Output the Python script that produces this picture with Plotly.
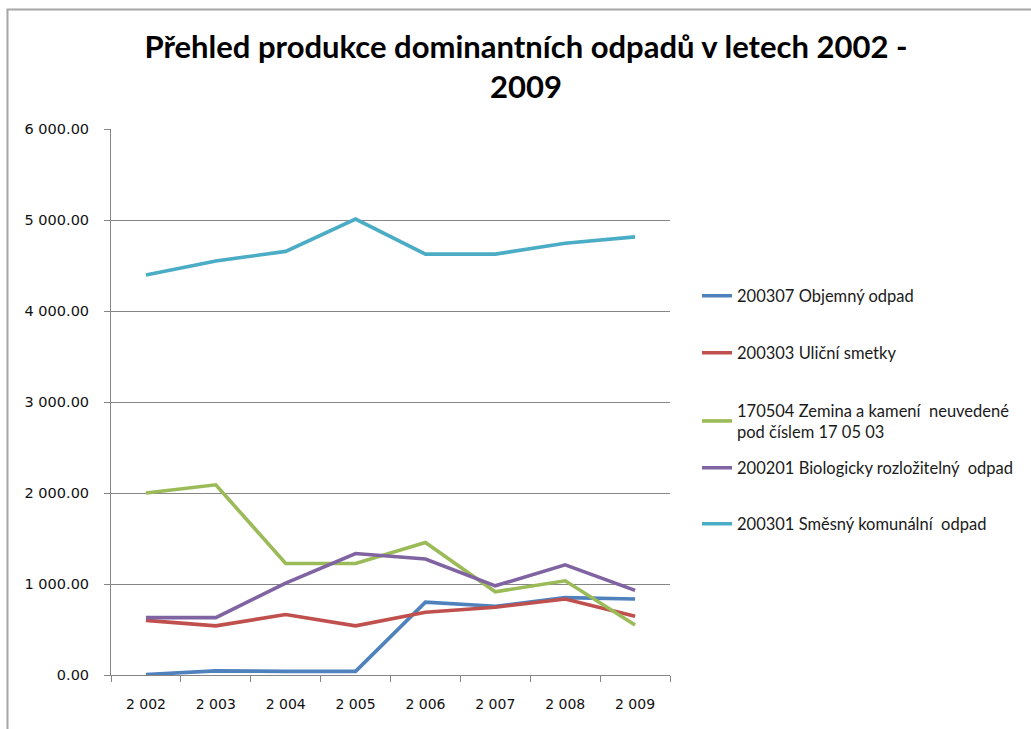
import plotly.graph_objects as go

# Years on the category axis (thousands separator is a space)
years = ["2 002", "2 003", "2 004", "2 005", "2 006", "2 007", "2 008", "2 009"]

# Waste production per year (t)
objemny = [5, 45, 40, 40, 800, 755, 850, 835]
ulicni = [600, 540, 665, 540, 690, 745, 835, 645]
zemina = [2000, 2090, 1225, 1225, 1455, 915, 1035, 550]
bio = [630, 630, 1010, 1335, 1275, 980, 1210, 930]
smesny = [4395, 4550, 4655, 5010, 4625, 4625, 4745, 4815]

series_names = [
    "200307 Objemný odpad",
    "200303 Uliční smetky",
    "170504 Zemina a kamení  neuvedené<br>pod číslem 17 05 03",
    "200201 Biologicky rozložitelný  odpad",
    "200301 Směsný komunální  odpad",
]
series_values = [objemny, ulicni, zemina, bio, smesny]
colors = ["#4F81BD", "#C0504D", "#9BBB59", "#8064A2", "#4BACC6"]

W, H = 1031, 729
L, R, T, B = 111, 361, 129, 54
PW, PH = W - L - R, H - T - B


def px_x(x):
    return (x - L) / PW


def px_y(y):
    return (H - B - y) / PH


# vertical centre of each legend entry, in pixels from the top
legend_centres = [296, 353, 421, 468, 524]

fig = go.Figure()
for i, (name, vals, col) in enumerate(zip(series_names, series_values, colors)):
    lg = "legend" if i == 0 else f"legend{i + 1}"
    fig.add_trace(go.Scatter(
        x=years, y=vals, name=name, mode="lines",
        line=dict(color=col, width=3.6),
        legend=lg,
    ))

legend_font = dict(family="Lato", size=16.5, color="#1a1a1a")
legend_layouts = {}
for i, yc in enumerate(legend_centres):
    key = "legend" if i == 0 else f"legend{i + 1}"
    legend_layouts[key] = dict(
        x=px_x(697), xanchor="left",
        y=px_y(yc), yanchor="middle",
        bgcolor="rgba(0,0,0,0)", borderwidth=0,
        font=legend_font, itemwidth=30,
    )

fig.update_layout(
    width=W, height=H, autosize=False,
    margin=dict(l=L, r=R, t=T, b=B, pad=0),
    paper_bgcolor="white", plot_bgcolor="white",
    separators=". ",
    showlegend=True,
    title=dict(
        text="Přehled produkce dominantních odpadů v letech 2002 -<br>2009",
        font=dict(family="Lato", size=31, color="black", weight="bold"),
        xref="container", x=526 / W, xanchor="center",
        yref="container", y=1 - 58 / H, yanchor="middle",
    ),
    xaxis=dict(
        type="category", tickson="boundaries",
        range=[-0.5, len(years) - 0.5],
        ticks="outside", ticklen=6, tickcolor="#868686",
        showline=True, linecolor="#868686", linewidth=1,
        showgrid=False,
        tickfont=dict(family="DejaVu Sans", size=14, color="#111111"),
        ticklabelstandoff=16,
    ),
    yaxis=dict(
        range=[0, 6000], dtick=1000, tickformat=",.2f",
        ticks="outside", ticklen=6, tickcolor="#868686",
        showline=True, linecolor="#868686", linewidth=1,
        showgrid=True, gridcolor="#868686", gridwidth=1,
        zeroline=False,
        tickfont=dict(family="DejaVu Sans", size=14.5, color="#111111"),
        ticklabelstandoff=12,
    ),
    **legend_layouts,
)

# chart area frame (left and top edges are visible)
frame = dict(color="#a6a6a6", width=2)
fig.add_shape(type="line", xref="paper", yref="paper",
              x0=px_x(7.5), x1=px_x(7.5), y0=px_y(H + 5), y1=px_y(9.5), line=frame)
fig.add_shape(type="line", xref="paper", yref="paper",
              x0=px_x(6.5), x1=px_x(W + 5), y0=px_y(9.5), y1=px_y(9.5), line=frame)

fig.write_html("out.html")
